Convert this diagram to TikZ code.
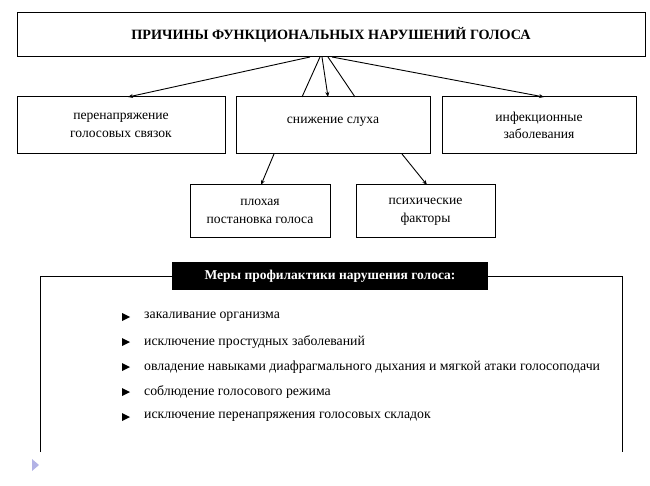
\documentclass[tikz,border=0pt]{standalone}
\usepackage{fontspec}
\setmainfont{Liberation Serif}
\usetikzlibrary{arrows.meta}
\begin{document}
\begin{tikzpicture}[x=1pt,y=-1pt,
  box/.style={draw,line width=1pt,inner sep=0pt,align=center,font=\fontsize{13.6}{17.5}\selectfont},
  arr/.style={line width=0.9pt,-{Stealth[length=5pt,width=4pt]}},
  ln/.style={line width=0.9pt},
  item/.style={anchor=west,font=\fontsize{13.8}{15}\selectfont,inner sep=0pt}]
\useasboundingbox (0,0) rectangle (650,486);
\node[box,minimum width=628,minimum height=44,font=\bfseries\fontsize{14.2}{17}\selectfont] (top) at (331,35) {ПРИЧИНЫ ФУНКЦИОНАЛЬНЫХ НАРУШЕНИЙ ГОЛОСА};
\node[box,minimum width=208,minimum height=57] (m1) at (121,125.5) {перенапряжение\\голосовых связок};
\node[box,minimum width=194,minimum height=57] (m2) at (333,125.5) {\raisebox{10pt}{снижение слуха}};
\node[box,minimum width=194,minimum height=57] (m3) at (539,125.5) {инфекционные\\заболевания};
\node[box,minimum width=140,minimum height=53] (b1) at (260,211.5) {плохая\\постановка голоса};
\node[box,minimum width=139,minimum height=53] (b2) at (425.5,211.5) {психические\\факторы};
\coordinate (o1) at (310,57); \coordinate (o2) at (320,57);
\coordinate (o3) at (322,57); \coordinate (o4) at (328,57); \coordinate (o5) at (332,57);
\draw[arr] (o1) -- (128,97);
\draw[ln] (o2) -- (302,97);
\draw[arr] (o3) -- (328,97);
\draw[ln] (o4) -- (355,97);
\draw[arr] (o5) -- (544,97);
\draw[arr] (274,154) -- (261,185);
\draw[arr] (402,154) -- (427,185);
% lower section
\draw[line width=1pt] (40,452) -- (40,276) -- (622,276) -- (622,452);
\node[fill=black,text=white,minimum width=316,minimum height=28,inner sep=0pt,font=\bfseries\fontsize{13.5}{15}\selectfont] (hdr) at (330,276) {Меры профилактики нарушения голоса:};
\foreach \y/\t in {317/закаливание организма,342/исключение простудных заболеваний,367/овладение навыками диафрагмального дыхания и мягкой атаки голосоподачи,392/соблюдение голосового режима,417/исключение перенапряжения голосовых складок}{
  \fill (122,\y-4) -- (130,\y) -- (122,\y+4) -- cycle;
  \node[item] at (144,\y) {\t};
}
\fill[gray!50!blue!40] (32,459) -- (39,465) -- (32,471) -- cycle;
\end{tikzpicture}
\end{document}
